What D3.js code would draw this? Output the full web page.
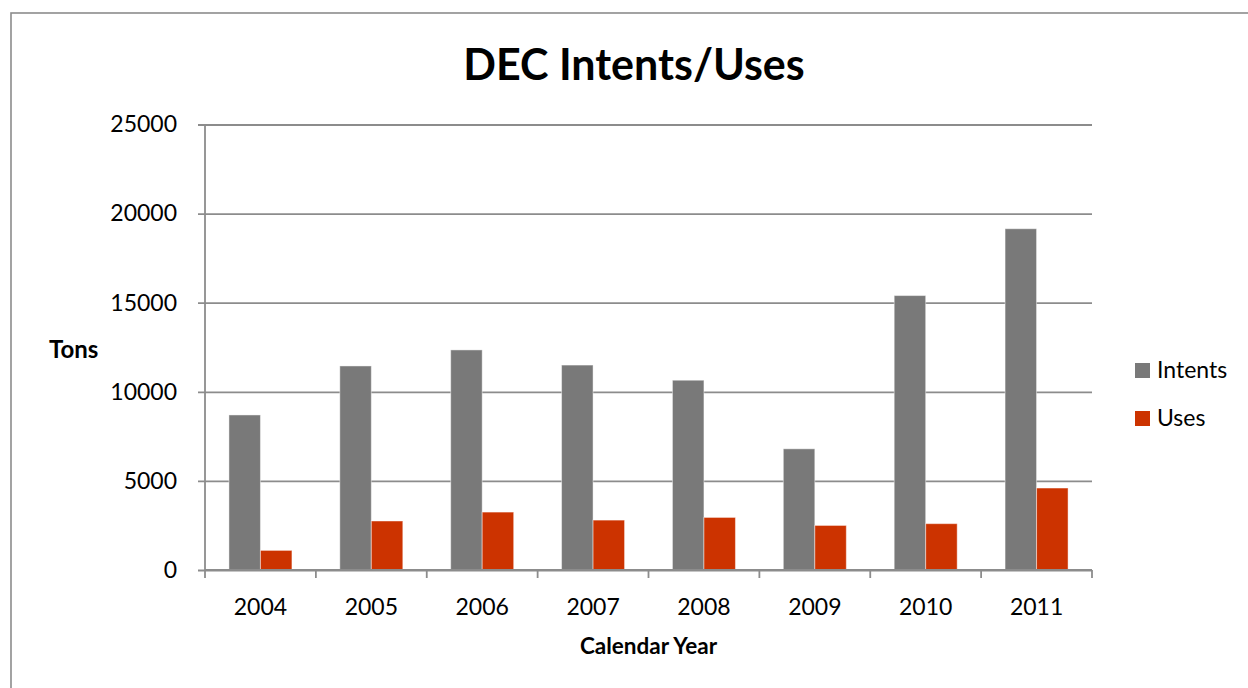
<!DOCTYPE html>
<html>
<head>
<meta charset="utf-8">
<script src="https://cdn.jsdelivr.net/npm/d3@7"></script>
<style>
  html, body { margin: 0; padding: 0; background: #fff; }
  svg { display: block; font-family: Lato, "Open Sans", sans-serif; }
</style>
</head>
<body>
<svg id="chart" width="1248" height="688"></svg>
<script>
// ---- data ----
const years = ["2004", "2005", "2006", "2007", "2008", "2009", "2010", "2011"];
const seriesNames = ["Intents", "Uses"];
const intents = [8700, 11450, 12350, 11500, 10650, 6800, 15400, 19150];
const uses = [1100, 2750, 3250, 2800, 2950, 2500, 2600, 4600];
const yTicks = [0, 5000, 10000, 15000, 20000, 25000];
const colors = ["#797979", "#CC3300"];
const chartTitle = "DEC Intents/Uses";
const yTitle = "Tons";
const xTitle = "Calendar Year";

const table = years.map((yr, i) => ({ year: yr, values: [intents[i], uses[i]] }));

(function draw() {
  const svg = d3.select("#chart");
  const pL = 205, pR = 1092, pT = 124.5, pB = 570;
  const gridColor = "#8c8c8c";

  // outer frame
  svg.append("rect")
    .attr("x", 11).attr("y", 13)
    .attr("width", 1400).attr("height", 900)
    .attr("fill", "none").attr("stroke", gridColor).attr("stroke-width", 1.6);

  const x = d3.scaleBand().domain(years).range([pL, pR]).padding(0);
  const x1 = d3.scaleBand().domain(seriesNames).range([0, x.bandwidth()])
    .paddingInner(0).paddingOuter(0.76);
  const y = d3.scaleLinear().domain([0, 25000]).range([pB, pT]);

  // gridlines + left ticks
  const grid = svg.append("g").attr("transform", `translate(${pL - 7},0)`)
    .call(d3.axisRight(y).tickValues(yTicks).tickSize(pR - pL + 7).tickFormat(""));
  grid.select(".domain").remove();
  grid.selectAll(".tick line").attr("stroke", gridColor).attr("stroke-width", 1.8);

  // y labels
  const yl = svg.append("g").attr("transform", `translate(${pL},0)`)
    .call(d3.axisLeft(y).tickValues(yTicks).tickSize(0).tickPadding(28).tickFormat(d3.format("d")));
  yl.select(".domain").remove();
  yl.selectAll("text").attr("font-family", "Lato, sans-serif").attr("font-size", 23).attr("fill", "#000");

  // y axis line
  svg.append("line").attr("x1", pL).attr("x2", pL).attr("y1", y(25000)).attr("y2", y(0))
    .attr("stroke", gridColor).attr("stroke-width", 1.8);

  // bars
  const groups = svg.append("g").selectAll("g").data(table).join("g")
    .attr("transform", d => `translate(${x(d.year)},0)`);
  groups.selectAll("rect").data(d => d.values.map((v, i) => ({ key: seriesNames[i], v, i })))
    .join("rect")
    .attr("x", d => x1(d.key))
    .attr("width", x1.bandwidth())
    .attr("y", d => y(d.v))
    .attr("height", d => y(0) - y(d.v))
    .attr("fill", d => colors[d.i])
    .attr("stroke", "rgba(255,255,255,0.45)")
    .attr("stroke-width", 1);

  // x axis line and boundary ticks
  svg.append("line").attr("x1", pL).attr("x2", pR).attr("y1", pB).attr("y2", pB)
    .attr("stroke", gridColor).attr("stroke-width", 1.8);
  const bounds = years.map(yr => x(yr)).concat([x.range()[1]]);
  svg.append("g").selectAll("line").data(bounds).join("line")
    .attr("x1", d => d).attr("x2", d => d)
    .attr("y1", pB).attr("y2", pB + 8)
    .attr("stroke", gridColor).attr("stroke-width", 1.8);

  // x labels
  const xl = svg.append("g").attr("transform", `translate(0,${pB})`)
    .call(d3.axisBottom(x).tickSize(0).tickPadding(29));
  xl.select(".domain").remove();
  xl.selectAll("text").attr("font-family", "Lato, sans-serif").attr("font-size", 23).attr("fill", "#000");

  // titles
  svg.append("text").attr("x", 634).attr("y", 80).attr("text-anchor", "middle")
    .attr("font-size", 43).attr("font-weight", "bold").attr("fill", "#000").text(chartTitle);
  svg.append("text").attr("x", 49).attr("y", 358)
    .attr("font-size", 24).attr("font-weight", "bold").attr("fill", "#000").text(yTitle);
  svg.append("text").attr("x", (pL + pR) / 2).attr("y", 654).attr("text-anchor", "middle")
    .attr("font-size", 22.5).attr("font-weight", "bold").attr("fill", "#000").text(xTitle);

  // legend
  const lg = svg.append("g").selectAll("g").data(seriesNames).join("g")
    .attr("transform", (d, i) => `translate(1135,${363 + i * 48})`);
  lg.append("rect").attr("width", 15).attr("height", 15).attr("fill", (d, i) => colors[i]);
  lg.append("text").attr("x", 22).attr("y", 15).attr("font-size", 23).attr("fill", "#000").text(d => d);
})();
</script>
</body>
</html>
